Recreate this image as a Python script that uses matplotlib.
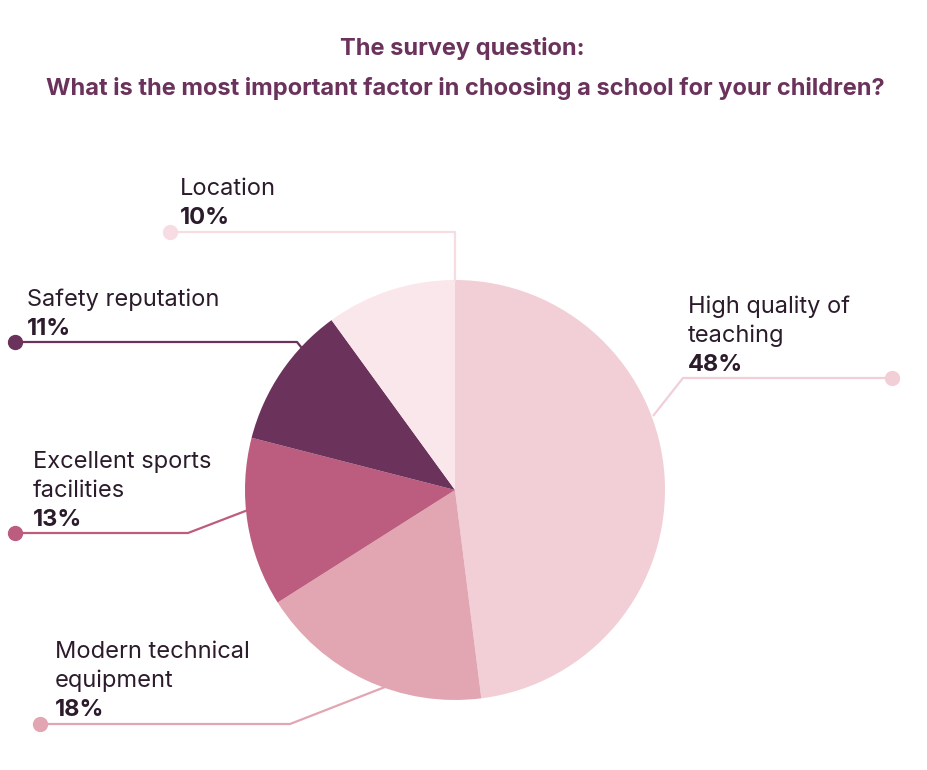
import matplotlib
matplotlib.use("Agg")
import matplotlib.pyplot as plt

# ---- data ----
categories = ["High quality of\nteaching", "Modern technical\nequipment",
              "Excellent sports\nfacilities", "Safety reputation", "Location"]
values = [48, 18, 13, 11, 10]
pct_labels = ["48%", "18%", "13%", "11%", "10%"]
colors = ["#F2CFD6", "#E2A6B2", "#BC5C7E", "#6B335C", "#FAE7EC"]
line_colors = ["#F2CFD6", "#E2A6B2", "#BC5C7E", "#6B335C", "#F7DDE3"]

title1 = "The survey question:"
title2 = "What is the most important factor in choosing a school for your children?"

# ---- layout (pixel coords, y from top) ----
W, H = 928, 770
center = (455, 490)
radius = 210
label_xy = [(688, 307), (55, 652), (33, 462), (27, 300), (180, 189)]  # first line center
paths = [
    [(892, 378), (683, 378), (653, 416)],
    [(40, 724), (290, 724), (385, 687)],
    [(15, 533), (188, 533), (248, 510)],
    [(15, 342), (297, 342), (305, 352)],
    [(170, 232), (455, 232), (455, 282)],
]
line_step = 29

plt.rcParams['font.family'] = ['Inter', 'DejaVu Sans']
fig = plt.figure(figsize=(W / 100, H / 100), dpi=100)
ax = fig.add_axes([0, 0, 1, 1])

def Y(y):
    return H - y

ax.pie(values, colors=colors, startangle=90, counterclock=False,
       center=(center[0], Y(center[1])), radius=radius,
       wedgeprops=dict(linewidth=0), frame=True)
ax.set_xlim(0, W)
ax.set_ylim(0, H)
ax.set_aspect('equal')
ax.axis('off')

txt_color = "#2B1B2B"
fs = 17
for cat, pct, (lx, ly), path, lc in zip(categories, pct_labels, label_xy, paths, line_colors):
    xs = [p[0] for p in path]
    ys = [Y(p[1]) for p in path]
    ax.plot(xs, ys, color=lc, lw=1.6, zorder=1, solid_capstyle='butt')
    ax.plot(xs[0], ys[0], 'o', color=lc, ms=10, zorder=3)
    lines = cat.split("\n")
    for i, ln in enumerate(lines):
        ax.text(lx, Y(ly + i * line_step), ln, fontsize=fs, color=txt_color,
                ha='left', va='center', zorder=4)
    ax.text(lx, Y(ly + len(lines) * line_step), pct, fontsize=fs, color=txt_color,
            fontweight='bold', ha='left', va='center', zorder=4)

tcol = "#6B335C"
ax.text(462, Y(49), title1, fontsize=17, fontweight='bold', color=tcol,
        ha='center', va='center')
ax.text(465, Y(88), title2, fontsize=17, fontweight='bold', color=tcol,
        ha='center', va='center')

fig.savefig("out.png", dpi=100)
